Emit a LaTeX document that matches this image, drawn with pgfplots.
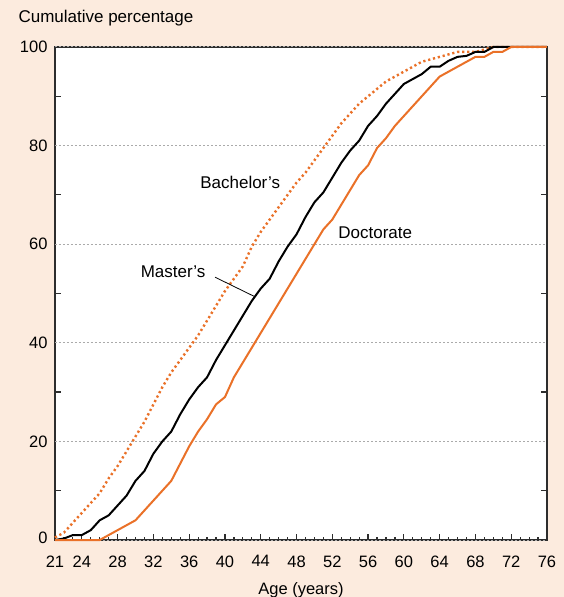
\documentclass[border=0pt]{standalone}
\usepackage{pgfplots}
\pgfplotsset{compat=1.18}
\usepackage{fontspec}
\setmainfont{Liberation Sans}
\definecolor{bgc}{RGB}{252,235,222}
\definecolor{org}{RGB}{234,113,40}
\definecolor{frm}{RGB}{45,45,45}
\definecolor{gridc}{RGB}{170,170,170}

\begin{document}
\begin{tikzpicture}
\useasboundingbox (-55pt,-57pt) rectangle (509pt,540pt);
\fill[bgc] (-55pt,-57pt) rectangle (509pt,540pt);
\begin{axis}[
  at={(0pt,0pt)}, anchor=south west,
  scale only axis, width=492pt, height=493pt,
  xmin=21, xmax=76, ymin=0, ymax=100,
  axis background/.style={fill=white},
  axis line style={frm, line width=1.3pt},
  clip=false,
  font=\fontsize{16.5}{19}\selectfont,
  /pgf/number format/assume math mode=true,
  tick align=inside,
  xtick pos=bottom,
  ytick pos=both,
  yticklabel pos=left,
  xtick={21,24,28,...,76},
  minor xtick={22,...,75},
  major tick length=6pt,
  minor tick length=3.5pt,
  tick style={frm, line width=1.2pt},
  ytick={10,30,...,90},
  yticklabels={},
  extra y ticks={0,20,40,60,80,100},
  extra y tick labels={\raisebox{4pt}{0},20,40,60,80,100},
  extra y tick style={grid=major, tick style={draw=none}},
  grid style={gridc, line width=1pt, dash pattern=on 2pt off 2pt},
  xticklabel style={yshift=-12pt},
  yticklabel style={xshift=-4pt},
  xlabel={Age (years)},
  xlabel style={yshift=-8pt},
]
\addplot[org, line width=2.4pt, dash pattern=on 2.2pt off 2.8pt] coordinates {
(21,0.5)(22,1.5)(23,3.5)(24,5.5)(25,7.5)(26,9.5)(27,12.5)(28,15)(29,18)(30,21)
(31,24)(32,27.5)(33,31)(34,34)(35,36.5)(36,39)(37,41.5)(38,44.5)(39,47.5)(40,50.5)
(41,53)(42,55.5)(43,59.5)(44,62.5)(45,65)(46,67.5)(47,70)(48,72.5)(49,74.5)(50,77)
(51,79.5)(52,82)(53,84.5)(54,86.5)(55,88.5)(56,90)(57,91.5)(58,93)(59,94)(60,95)
(61,96)(62,97)(63,97.5)(64,98)(65,98.5)(66,99)(67,99)(68,99)(69,99.5)(70,100)
(71,100)(72,100)(73,100)(74,100)(75,100)(76,100)};
\addplot[black, line width=2pt] coordinates {
(21,0)(22,0.3)(23,1)(24,1)(25,2)(26,4)(27,5)(28,7)(29,9)(30,12)
(31,14)(32,17.5)(33,20)(34,22)(35,25.5)(36,28.5)(37,31)(38,33)(39,36.5)(40,39.5)
(41,42.5)(42,45.5)(43,48.5)(44,51)(45,53)(46,56.5)(47,59.5)(48,62)(49,65.5)(50,68.5)
(51,70.5)(52,73.5)(53,76.5)(54,79)(55,81)(56,84)(57,86)(58,88.5)(59,90.5)(60,92.5)
(61,93.5)(62,94.5)(63,96)(64,96)(65,97.2)(66,98)(67,98.2)(68,99)(69,99)(70,100)
(71,100)(72,100)(73,100)(74,100)(75,100)(76,100)};
\addplot[org, line width=2pt] coordinates {
(21,0)(22,0)(23,0)(24,0)(25,0)(26,0)(27,1)(28,2)(29,3)(30,4)
(31,6)(32,8)(33,10)(34,12)(35,15.5)(36,19)(37,22)(38,24.5)(39,27.5)(40,29)
(41,33)(42,36)(43,39)(44,42)(45,45)(46,48)(47,51)(48,54)(49,57)(50,60)
(51,63)(52,65)(53,68)(54,71)(55,74)(56,76)(57,79.5)(58,81.5)(59,84)(60,86)
(61,88)(62,90)(63,92)(64,94)(65,95)(66,96)(67,97)(68,98)(69,98)(70,99)
(71,99)(72,100)(73,100)(74,100)(75,100)(76,100)};
\draw[black, line width=0.8pt] (axis cs:38.9,53.3) -- (axis cs:43.4,49.3);
\node[font=\fontsize{17}{20}\selectfont] at (axis cs:41.7,72.6) {Bachelor’s};
\node[font=\fontsize{17}{20}\selectfont] at (axis cs:34.2,54.4) {Master’s};
\node[font=\fontsize{17}{20}\selectfont] at (axis cs:56.8,62.3) {Doctorate};
\end{axis}
\node[anchor=west, font=\fontsize{17}{20}\selectfont] at (-40pt,522pt) {Cumulative percentage};
\end{tikzpicture}
\end{document}
